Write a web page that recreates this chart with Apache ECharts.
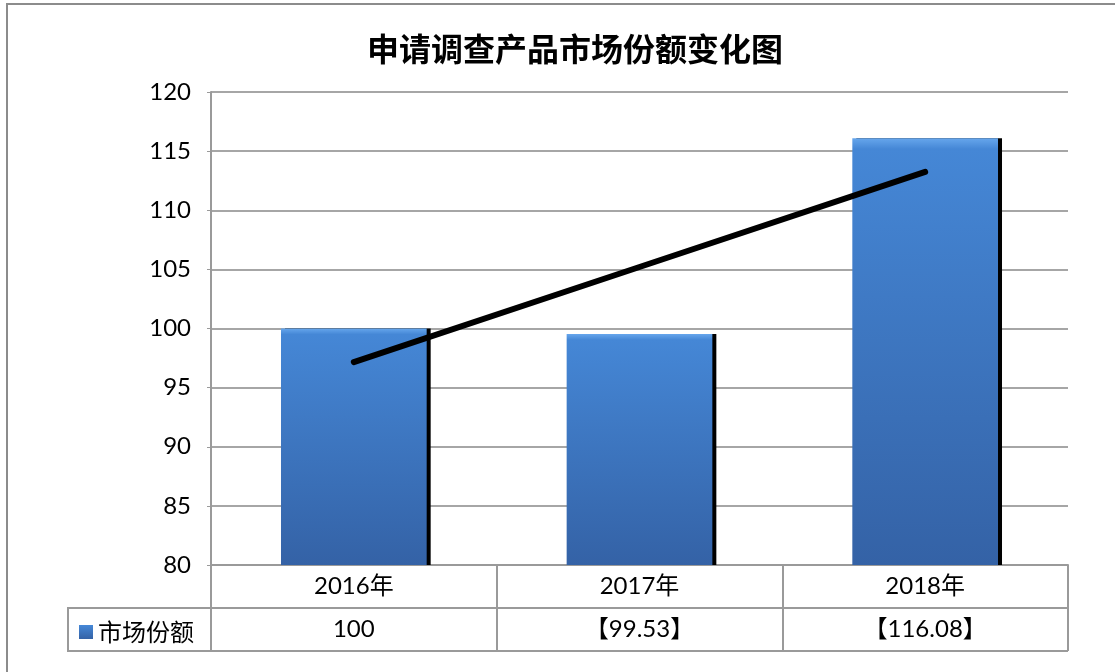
<!DOCTYPE html>
<html>
<head>
<meta charset="utf-8">
<script src="https://cdn.jsdelivr.net/npm/echarts@6/dist/echarts.min.js"></script>
<style>
  html, body { margin: 0; padding: 0; background: #fff; }
  #chart { width: 1115px; height: 672px; }
</style>
</head>
<body>
<div id="chart"></div>
<script>
const categories = ["2016年", "2017年", "2018年"]
const shares = [100, 99.53, 116.08]
const shareLabels = ["100", "【99.53】", "【116.08】"]
const trend = [97.16, 105.2, 113.24]

// plot area, in pixels
const gridLeft = 211, gridRight = 47, gridTop = 92, gridBottom = 107
const W = 1115, H = 672
const axisY = H - gridBottom
const rowH = 43
const legendLeft = 68

const font = "Lato, 'Noto Sans CJK SC', sans-serif"
const lineColor = "#9a9a9a"

const chart = echarts.init(document.getElementById("chart"))

chart.setOption({
  animation: false,
  title: {
    text: "申请调查产品市场份额变化图",
    left: 362,
    top: 28,
    textStyle: { fontFamily: "'Noto Sans CJK SC', sans-serif", fontSize: 32, fontWeight: "bold", color: "#000" }
  },
  legend: {
    data: ["市场份额"],
    left: legendLeft + 6,
    top: axisY + rowH + 7,
    icon: "rect",
    itemWidth: 14,
    itemHeight: 14,
    itemGap: 6,
    textStyle: { fontFamily: "'Noto Sans CJK SC', sans-serif", fontSize: 24, color: "#000" }
  },
  grid: { left: gridLeft, right: gridRight, top: gridTop, bottom: gridBottom },
  xAxis: [{
    type: "category",
    data: categories,
    axisLine: { lineStyle: { color: lineColor, width: 2 } },
    axisTick: { show: true, length: rowH * 2, lineStyle: { color: lineColor, width: 2 } },
    axisLabel: { fontFamily: font, fontSize: 24, color: "#000", margin: 9 }
  }, {
    type: "category",
    data: shareLabels,
    position: "bottom",
    offset: rowH,
    axisLine: { show: false },
    axisTick: { show: false },
    axisLabel: { fontFamily: font, fontSize: 24, color: "#000", margin: 9 }
  }],
  yAxis: {
    type: "value",
    min: 80,
    max: 120,
    interval: 5,
    axisLine: { show: true, lineStyle: { color: lineColor, width: 2 } },
    axisTick: { show: true, length: 4, lineStyle: { color: lineColor } },
    axisLabel: { fontFamily: font, fontSize: 24, color: "#000", margin: 20 },
    splitLine: { lineStyle: { color: "#a6a6a6", width: 2 } }
  },
  series: [{
    name: "市场份额",
    type: "bar",
    data: shares,
    barWidth: "51%",
    itemStyle: {
      color: new echarts.graphic.LinearGradient(0, 0, 0, 1, [
        { offset: 0, color: "#66a6ec" },
        { offset: 0.025, color: "#4587d6" },
        { offset: 1, color: "#3462a6" }
      ]),
      shadowColor: "#000",
      shadowOffsetX: 4,
      shadowOffsetY: 0,
      shadowBlur: 0
    }
  }, {
    name: "趋势",
    type: "line",
    data: trend,
    symbol: "none",
    lineStyle: { color: "#000", width: 6, cap: "round" },
    z: 5
  }],
  graphic: [
    {
      type: "rect",
      shape: { x: 7, y: 4, width: W + 20, height: H + 20 },
      style: { fill: "none", stroke: "#8c8c8c", lineWidth: 2 },
      silent: true
    },
    {
      type: "polyline",
      shape: { points: [[W - gridRight, axisY + rowH], [legendLeft, axisY + rowH], [legendLeft, axisY + rowH * 2], [W - gridRight, axisY + rowH * 2]] },
      style: { fill: "none", stroke: lineColor, lineWidth: 2 },
      silent: true
    }
  ]
})
</script>
</body>
</html>
